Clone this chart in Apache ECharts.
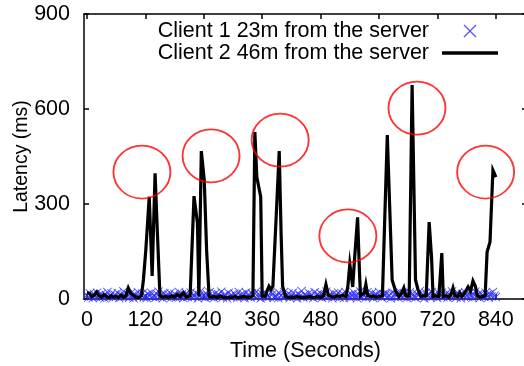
<!DOCTYPE html>
<html>
<head>
<meta charset="utf-8">
<script src="https://cdn.jsdelivr.net/npm/echarts@6/dist/echarts.min.js"></script>
<style>
html,body{margin:0;padding:0;background:#fff;}
#chart{width:524px;height:366px;}
</style>
</head>
<body>
<div id="chart"></div>
<script>
// ---------- data ----------
var seriesNames = ['Client 1 23m from the server', 'Client 2 46m from the server'];
var xTickValues = [0, 120, 240, 360, 480, 600, 720, 840];
var yTickValues = [0, 300, 600, 900];
var xAxisTitle = 'Time (Seconds)';
var yAxisTitle = 'Latency (ms)';

// Client 1 (blue crosses), sampled every 3 s
var client1Time = [0,3,6,9,12,15,18,21,24,27,30,33,36,39,42,45,48,51,54,57,
  60,63,66,69,72,75,78,81,84,87,90,93,96,99,102,105,108,111,114,117,
  120,123,126,129,132,135,138,141,144,147,150,153,156,159,162,165,168,171,174,177,
  180,183,186,189,192,195,198,201,204,207,210,213,216,219,222,225,228,231,234,237,
  240,243,246,249,252,255,258,261,264,267,270,273,276,279,282,285,288,291,294,297,
  300,303,306,309,312,315,318,321,324,327,330,333,336,339,342,345,348,351,354,357,
  360,363,366,369,372,375,378,381,384,387,390,393,396,399,402,405,408,411,414,417,
  420,423,426,429,432,435,438,441,444,447,450,453,456,459,462,465,468,471,474,477,
  480,483,486,489,492,495,498,501,504,507,510,513,516,519,522,525,528,531,534,537,
  540,543,546,549,552,555,558,561,564,567,570,573,576,579,582,585,588,591,594,597,
  600,603,606,609,612,615,618,621,624,627,630,633,636,639,642,645,648,651,654,657,
  660,663,666,669,672,675,678,681,684,687,690,693,696,699,702,705,708,711,714,717,
  720,723,726,729,732,735,738,741,744,747,750,753,756,759,762,765,768,771,774,777,
  780,783,786,789,792,795,798,801,804,807,810,813,816,819,822,825,828,831,834,837,
  840];
var client1Latency = [12,5,18,9,3,15,7,20,11,4,
  16,8,2,13,22,6,10,17,5,14,
  9,19,3,12,7,24,11,6,15,4,
  18,10,2,14,8,21,6,13,17,5,
  11,3,16,9,20,7,12,4,15,23,
  8,14,2,18,10,6,13,19,5,11,
  16,4,9,22,7,15,3,12,18,6,
  10,20,5,14,8,17,2,11,25,7,
  13,4,16,9,21,6,12,3,18,10,
  15,7,23,5,11,14,2,19,8,13,
  6,17,10,4,22,12,7,15,3,20,
  9,14,5,18,11,6,24,8,13,2,
  16,10,19,4,12,7,21,15,5,9,
  14,3,18,11,6,22,8,13,17,4,
  10,20,7,12,2,16,9,25,5,14,
  11,6,19,8,13,3,21,10,15,7,
  18,4,12,9,23,6,14,11,2,17,
  7,13,20,5,10,16,3,22,9,12,
  4,15,8,19,11,2,14,24,6,17,
  10,5,21,13,7,18,3,12,16,8,
  22,9,4,15,11,19,6,13,2,20,
  8,16,12,5,23,10,7,18,14,3,
  11,21,6,17,9,4,15,12,25,7,
  13,2,19,10,16,5,22,8,14,11,
  3,18,9,20,6,12,17,4,15,10,
  24,7,13,5,19,11,2,16,8,21,
  12,6,18,10,4,14,23,9,15,3,
  17,11,7,20,13,5,16,8,22,10,
  6];

// Client 2 (black line)
var client2Time = [0,5,10,15,20,25,30,35,40,45,50,55,60,65,70,75,80,85,90,95,100,105,
  112,116,121,128,134,140,145,150,156,162,168,174,180,186,192,198,204,208,
  212,220,227,230,235,241,246,251,256,262,268,274,280,286,292,298,304,310,316,322,328,334,338,
  341,345,349,357,360,366,370,374,378,382,390,395,399,402,
  408,414,420,426,432,438,444,450,456,462,468,474,480,486,491,496,502,508,514,520,526,532,
  536,540,543,546,549,556,560,562,566,570,573,577,582,588,594,600,604,
  607,617,627,634,641,647,651,655,662,668,675,680,686,692,697,703,708,711,716,720,
  723,729,732,738,744,748,752,756,762,766,770,774,778,783,788,793,798,802,807,812,
  818,822,828,834,836,840];
var client2Latency = [20,18,8,12,22,10,6,14,8,5,10,6,8,5,12,6,10,35,18,12,6,4,
  10,60,155,323,73,397,200,10,6,8,5,10,6,15,8,20,6,10,
  10,325,240,8,467,376,150,8,6,8,5,10,6,4,6,5,8,5,6,8,6,5,10,
  10,527,385,322,10,8,25,40,30,40,300,467,200,40,
  8,5,6,5,8,5,6,5,8,6,5,8,5,10,46,12,8,6,10,8,12,8,
  40,110,110,38,110,258,80,10,8,20,46,10,8,10,6,8,10,
  10,518,60,25,8,20,35,10,10,676,60,30,8,10,10,243,130,8,10,6,
  8,145,8,10,6,15,35,10,8,20,8,15,10,38,25,57,40,10,6,8,
  10,148,180,407,400,385];

// Highlight ellipses (red) centred on the annotated peaks
var highlightTime = [113, 255, 397, 536, 678, 819];
var highlightLatency = [401, 452, 502, 199, 603, 401];

// ---------- chart ----------
var FONT = 'Liberation Sans, Arial, Helvetica, sans-serif';
var CROSS = 'path://M0,0.7 L0.7,0 L5,4.3 L9.3,0 L10,0.7 L5.7,5 L10,9.3 L9.3,10 L5,5.7 L0.7,10 L0,9.3 L4.3,5 Z';
var LINEICON = 'path://M0,0 H56 V3.5 H0 Z';

function zip(a, b) { var r = []; for (var i = 0; i < a.length; i++) r.push([a[i], b[i]]); return r; }

var axisLineStyle = { color: '#000', width: 1.5 };
var chart = echarts.init(document.getElementById('chart'), null, { renderer: 'canvas' });
chart.setOption({
  animation: false,
  backgroundColor: '#fff',
  textStyle: { fontFamily: FONT },
  grid: { left: 84, top: 14, right: -3, bottom: 67, containLabel: false, outerBoundsMode: 'none' },
  legend: {
    orient: 'vertical', right: 21, top: 15, align: 'right',
    itemWidth: 56, itemHeight: 13, itemGap: 0,
    textStyle: { fontSize: 21.5, color: '#000', fontFamily: FONT, lineHeight: 21, padding: [0, 8, 0, 0] },
    data: [
      { name: seriesNames[0], icon: CROSS, itemStyle: { color: '#2a2aff' } },
      { name: seriesNames[1], icon: LINEICON, itemStyle: { color: '#000' } }
    ]
  },
  xAxis: [{
    type: 'value', min: -6, max: 904, position: 'bottom',
    axisLine: { show: true, onZero: false, lineStyle: axisLineStyle },
    axisTick: { show: true, inside: true, length: 5, customValues: xTickValues, lineStyle: axisLineStyle },
    axisLabel: { customValues: xTickValues, fontSize: 21.5, color: '#000', margin: 10, fontFamily: FONT },
    splitLine: { show: false },
    name: xAxisTitle, nameLocation: 'middle', nameGap: 41, nameMoveOverlap: false,
    nameTextStyle: { fontSize: 21.5, color: '#000', fontFamily: FONT }
  }, {
    type: 'value', min: -6, max: 904, position: 'top',
    axisLine: { show: true, onZero: false, lineStyle: axisLineStyle },
    axisTick: { show: true, inside: true, length: 5, customValues: xTickValues, lineStyle: axisLineStyle },
    axisLabel: { show: false }, splitLine: { show: false }
  }],
  yAxis: [{
    type: 'value', min: 0, max: 900, position: 'left',
    axisLine: { show: true, onZero: false, lineStyle: axisLineStyle },
    axisTick: { show: true, inside: true, length: 5, customValues: yTickValues, lineStyle: axisLineStyle },
    axisLabel: { customValues: yTickValues, fontSize: 21.5, color: '#000', margin: 14, fontFamily: FONT },
    splitLine: { show: false },
    name: yAxisTitle, nameLocation: 'middle', nameGap: 52, nameRotate: 90, nameMoveOverlap: false,
    nameTextStyle: { fontSize: 19.5, color: '#000', fontFamily: FONT }
  }, {
    type: 'value', min: 0, max: 900, position: 'right',
    axisLine: { show: true, onZero: false, lineStyle: axisLineStyle },
    axisTick: { show: true, inside: true, length: 5, customValues: yTickValues, lineStyle: axisLineStyle },
    axisLabel: { show: false }, splitLine: { show: false }
  }],
  series: [{
    name: seriesNames[0], type: 'scatter',
    data: zip(client1Time, client1Latency),
    symbol: CROSS, symbolSize: 9,
    itemStyle: { color: '#2a2aff' },
    z: 2, silent: true
  }, {
    name: seriesNames[1], type: 'line',
    data: zip(client2Time, client2Latency),
    symbol: 'none', showSymbol: false,
    lineStyle: { color: '#000', width: 3.2, join: 'miter' },
    itemStyle: { color: '#000' },
    z: 3, silent: true
  }, {
    name: 'highlight', type: 'scatter',
    data: zip(highlightTime, highlightLatency),
    symbol: 'circle', symbolSize: [57, 53],
    itemStyle: { color: 'rgba(0,0,0,0)', borderColor: '#ff0000', borderWidth: 1.8 },
    z: 4, silent: true
  }]
});
</script>
</body>
</html>
